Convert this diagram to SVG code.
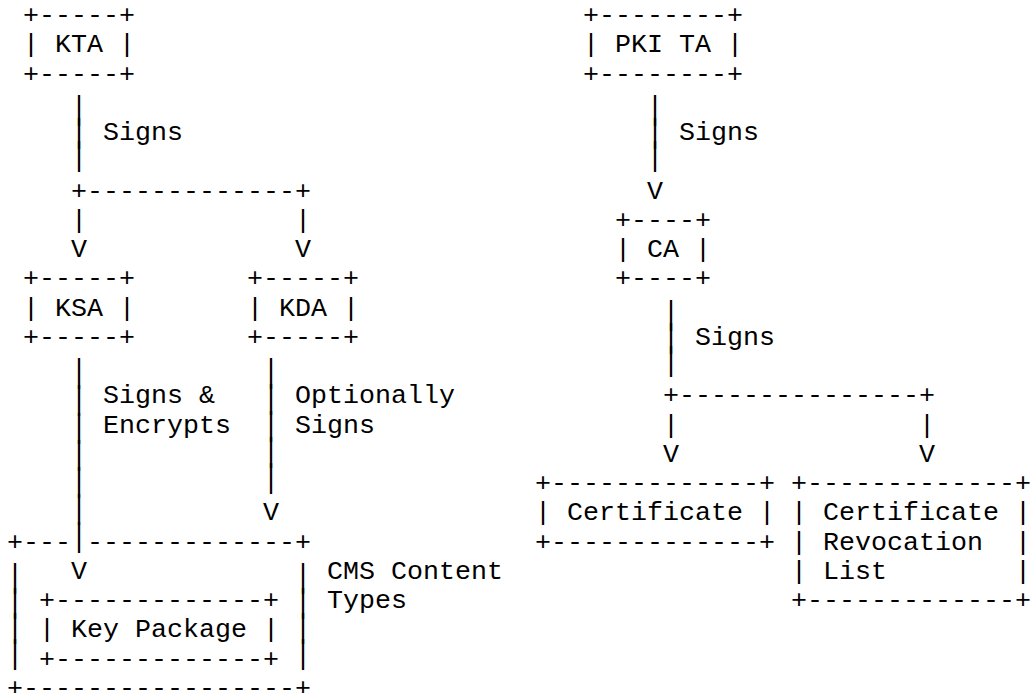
<svg xmlns="http://www.w3.org/2000/svg" width="1033" height="693" viewBox="0 0 1033 693" xml:space="preserve">
<style>
text { font-family: "Liberation Mono", "Courier New", monospace; font-size: 26.667px; fill: #000; white-space: pre; }
</style>
<rect x="0" y="0" width="1033" height="693" fill="#ffffff"/>

<g id="kta">
<text x="23" y="23">+-----+</text>
<text x="23" y="52.26">| KTA |</text>
<text x="23" y="81.52">+-----+</text>
</g>

<g id="ksa">
<text x="23" y="286.34">+-----+</text>
<text x="23" y="315.6">| KSA |</text>
<text x="23" y="344.86">+-----+</text>
</g>

<g id="kda">
<text x="247" y="286.34">+-----+</text>
<text x="247" y="315.6">| KDA |</text>
<text x="247" y="344.86">+-----+</text>
</g>

<g id="cms-content-types">
<text x="7" y="549.68">+---</text>
<text x="87" y="549.68">-------------+</text>
<text transform="scale(1 1.25)" x="7 7 7 7" y="469.49 489.7 509.91 530.12">||||</text>
<text transform="scale(1 1.25)" x="295 295 295 295" y="469.49 489.7 509.91 530.12">||||</text>
<text x="7" y="695.98">+-----------------+</text>
<text x="327" y="578.94">CMS Content</text>
<text x="327" y="608.2">Types</text>
</g>

<g id="key-package">
<text x="39" y="608.2">+-------------+</text>
<text x="39" y="637.46">| Key Package |</text>
<text x="39" y="666.72">+-------------+</text>
</g>

<g id="pki-ta">
<text x="583" y="23">+--------+</text>
<text x="583" y="52.26">| PKI TA |</text>
<text x="583" y="81.52">+--------+</text>
</g>

<g id="ca">
<text x="615" y="227.82">+----+</text>
<text x="615" y="257.08">| CA |</text>
<text x="615" y="286.34">+----+</text>
</g>

<g id="certificate">
<text x="535" y="491.16">+-------------+</text>
<text x="535" y="520.42">| Certificate |</text>
<text x="535" y="549.68">+-------------+</text>
</g>

<g id="crl">
<text x="791" y="491.16">+-------------+</text>
<text x="791" y="520.42">| Certificate |</text>
<text x="791" y="549.68">| Revocation  |</text>
<text x="791" y="578.94">| List        |</text>
<text x="791" y="608.2">+-------------+</text>
</g>

<g id="connectors">
<!-- KTA signs KSA / KDA -->
<text transform="scale(1 1.25)" x="71 71 71" y="94.96 113.57 132.18">|||</text>
<text x="71" y="198.56">+-------------+</text>
<text x="71" y="227.82">|</text>
<text x="295" y="227.82">|</text>
<text x="71" y="257.08">V</text>
<text x="295" y="257.08">V</text>
<!-- KSA signs & encrypts key package -->
<text transform="scale(1 1.25)" x="71 71 71 71 71 71 71" y="305.64 327.44 349.25 371.06 392.87 414.68 436.48">|||||||</text>
<text x="71" y="578.94">V</text>
<!-- KDA optionally signs CMS content types -->
<text transform="scale(1 1.25)" x="263 263 263 263 263" y="305.64 326.64 347.65 368.66 389.67">|||||</text>
<text x="263" y="520.42">V</text>
<!-- PKI TA signs CA -->
<text transform="scale(1 1.25)" x="647 647 647" y="94.96 113.57 132.18">|||</text>
<text x="647" y="198.56">V</text>
<!-- CA signs certificate / CRL -->
<text transform="scale(1 1.25)" x="663 663 663" y="258.82 277.43 296.04">|||</text>
<text x="663" y="403.38">+---------------+</text>
<text x="663" y="432.64">|</text>
<text x="919" y="432.64">|</text>
<text x="663" y="461.9">V</text>
<text x="919" y="461.9">V</text>
</g>

<g id="labels">
<text x="103" y="140.04">Signs</text>
<text x="103" y="403.38">Signs &amp;</text>
<text x="103" y="432.64">Encrypts</text>
<text x="295" y="403.38">Optionally</text>
<text x="295" y="432.64">Signs</text>
<text x="679" y="140.04">Signs</text>
<text x="695" y="344.86">Signs</text>
</g>
</svg>
